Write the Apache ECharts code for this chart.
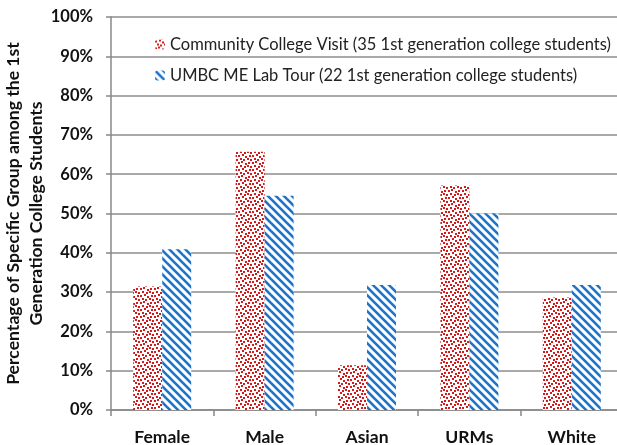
<!DOCTYPE html>
<html><head><meta charset="utf-8">
<script src="https://cdn.jsdelivr.net/npm/echarts@6/dist/echarts.min.js"></script>
<style>html,body{margin:0;padding:0;background:#fff}#c{width:617px;height:445px}</style>
</head><body><div id="c"></div>
<script>
var categories = ['Female', 'Male', 'Asian', 'URMs', 'White'];
var communityVisit = [31.4, 65.7, 11.4, 57.1, 28.6];
var labTour = [40.9, 54.5, 31.8, 50.0, 31.8];
var seriesNames = ['Community College Visit (35 1st generation college students)', 'UMBC ME Lab Tour (22 1st generation college students)'];
var yTicks = [0, 10, 20, 30, 40, 50, 60, 70, 80, 90, 100];

function dotPattern() {
  var s = 14;
  var c = document.createElement('canvas');
  c.width = s; c.height = s;
  var g = c.getContext('2d');
  g.fillStyle = '#ffffff'; g.fillRect(0, 0, s, s);
  g.fillStyle = '#d41a1a';
  var pts = [[0,1],[4,0],[7,2],[11,1],[2,4],[5,5],[9,4],[12,5],[0,8],[3,7],[7,9],[10,8],[2,11],[6,12],[9,11],[12,12]];
  pts.forEach(function (p) { g.fillRect(p[0], p[1], 2, 2); });
  return c;
}
function stripePattern() {
  var s = 8;
  var c = document.createElement('canvas');
  c.width = s; c.height = s;
  var g = c.getContext('2d');
  g.fillStyle = '#ffffff'; g.fillRect(0, 0, s, s);
  g.strokeStyle = '#1a74cc'; g.lineWidth = 2.6;
  for (var k = -1; k <= 1; k++) {
    g.beginPath(); g.moveTo(k * s - 1, -1); g.lineTo(k * s + s + 1, s + 1); g.stroke();
  }
  return c;
}

var chart = echarts.init(document.getElementById('c'), null, {renderer: 'canvas'});
var font = 'Lato';
chart.setOption({
  animation: false,
  grid: {left: 111, top: 17, width: 512, height: 393, containLabel: false, outerBoundsMode: 'none'},
  legend: {
    orient: 'vertical', left: 150, top: 31, itemWidth: 10, itemHeight: 10, itemGap: 14,
    textStyle: {fontFamily: font, fontSize: 16.5, color: '#222'},
    data: seriesNames
  },
  xAxis: {
    type: 'category', data: categories,
    axisLine: {lineStyle: {color: '#888', width: 1.5}},
    axisTick: {show: true, length: 6, lineStyle: {color: '#888', width: 1.5}},
    axisLabel: {fontFamily: font, fontWeight: 'bold', fontSize: 17.5, color: '#111', margin: 18}
  },
  yAxis: {
    type: 'value', min: 0, max: 100, interval: 10,
    name: 'Percentage of Specific Group among the 1st\nGeneration College Students',
    nameLocation: 'middle', nameGap: 63, nameRotate: 90, nameMoveOverlap: false,
    nameTextStyle: {fontFamily: font, fontWeight: 'bold', fontSize: 17.6, color: '#111', lineHeight: 23},
    axisLine: {show: true, lineStyle: {color: '#888', width: 1.5}},
    axisTick: {show: true, length: 5, lineStyle: {color: '#888', width: 1.5}},
    axisLabel: {fontFamily: font, fontWeight: 'bold', fontSize: 16.5, color: '#111', margin: 18, formatter: '{value}%'},
    splitLine: {lineStyle: {color: '#8c8c8c', width: 1.5}}
  },
  series: [
    {name: seriesNames[0], type: 'bar', data: communityVisit, barWidth: 29, barGap: '0%',
     itemStyle: {color: {image: dotPattern(), repeat: 'repeat'}}},
    {name: seriesNames[1], type: 'bar', data: labTour, barWidth: 29, barGap: '0%',
     itemStyle: {color: {image: stripePattern(), repeat: 'repeat'}}}
  ]
});
</script></body></html>
